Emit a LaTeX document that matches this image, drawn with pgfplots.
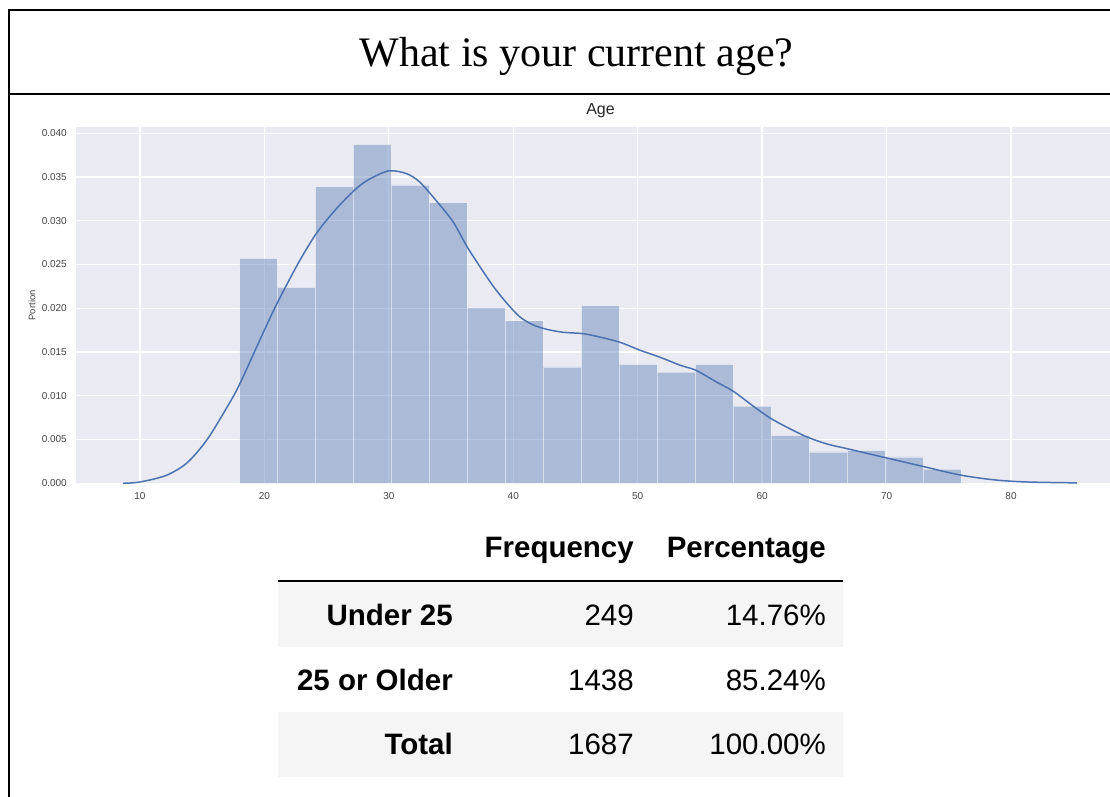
\documentclass[border=0pt]{standalone}
\usepackage{fontspec}
\setmainfont{Liberation Serif}
\newfontfamily\arial{Liberation Sans}
\usepackage{pgfplots}
\pgfplotsset{compat=1.18}
\definecolor{sbblue}{HTML}{4C72B0}
\definecolor{sbbg}{HTML}{EAEAF2}
\definecolor{rowgray}{HTML}{F5F5F5}
\definecolor{ticktxt}{HTML}{444444}
\definecolor{titletxt}{HTML}{262626}
\begin{document}
\begin{tikzpicture}[x=1pt,y=1pt]
\useasboundingbox (0,0) rectangle (1110,796);
\clip (0,0) rectangle (1110,796);
\fill[white] (0,0) rectangle (1110,796);
% frame
\draw[line width=2pt] (9,-5) -- (9,786) -- (1120,786);
\draw[line width=2pt] (9,702) -- (1120,702);
\node[anchor=base, inner sep=0pt, font=\fontsize{42}{50}\selectfont] at (576.5,729) {What is your current age?};

\begin{axis}[
  at={(76pt,312.7pt)}, anchor=south west,
  scale only axis, width=1049pt, height=356pt,
  xmin=4.86, xmax=89.16, ymin=0, ymax=0.04068,
  axis background/.style={fill=sbbg},
  axis line style={draw=none},
  tick style={draw=none},
  grid=major,
  major grid style={white, line width=1.3pt},
  xtick={10,20,30,40,50,60,70,80},
  ytick={0,0.005,0.01,0.015,0.02,0.025,0.03,0.035,0.04},
  scaled y ticks=false,
  yticklabel style={/pgf/number format/fixed, /pgf/number format/fixed zerofill, /pgf/number format/precision=3, xshift=-9pt},
  /pgf/number format/assume math mode=true,
  ticklabel style={font=\arial\fontsize{10}{12}\selectfont, text=ticktxt, inner sep=0pt},
  xticklabel style={yshift=-9.5pt},
  ylabel={Portion},
  ylabel style={at={(axis description cs:-0.042,0.5)}, anchor=center, font=\arial\fontsize{9.5}{11}\selectfont, text=ticktxt},
  title={Age},
  title style={at={(axis description cs:0.5,1)}, anchor=base, yshift=6.3pt, font=\arial\fontsize{16}{18}\selectfont, text=titletxt},
]
\addplot[ybar interval, fill=sbblue, fill opacity=0.4, draw=white, draw opacity=0.5, line width=0.8pt] coordinates {
(18.0000,0.02571) (21.0526,0.02240) (24.1053,0.03390) (27.1579,0.03874)
(30.2105,0.03409) (33.2632,0.03207) (36.3158,0.02005) (39.3684,0.01857)
(42.4211,0.01329) (45.4737,0.02030) (48.5263,0.01360) (51.5789,0.01269)
(54.6316,0.01360) (57.6842,0.00883) (60.7368,0.00549) (63.7895,0.00358)
(66.8421,0.00377) (69.8947,0.00301) (72.9474,0.00163) (76.0000,0.00163)
};
\addplot[sbblue, line width=1.5pt, smooth] coordinates {
(8.63,0) (10,0.00015) (12.1,0.0009) (13.75,0.0023) (15.35,0.0049) (17.0,0.0087)
(18.0,0.0113) (19.9,0.0172) (21.0,0.0205) (22.7,0.0251) (24.2,0.0286) (25.8,0.0314)
(27.4,0.0337) (28.5,0.0348) (30.0,0.0357) (31.4,0.0354) (32.5,0.0344) (34.1,0.0318)
(35.2,0.0298) (36.26,0.0271) (37.3,0.0248) (38.4,0.0225) (39.47,0.0206) (40.54,0.0190)
(41.6,0.0181) (42.68,0.0176) (44.0,0.01726) (45.6,0.0171) (47.0,0.0167) (48.6,0.0161)
(50.2,0.0152) (51.8,0.0144) (53.4,0.0135) (54.7,0.0129) (56.3,0.0116) (57.7,0.0105)
(59.3,0.0088) (60.6,0.0075) (62.0,0.0064) (63.6,0.0053) (65.2,0.0045) (67.0,0.0039)
(70.0,0.0029) (73.0,0.0019) (75.9,0.00095) (78.6,0.0004) (81.3,0.00015) (85.3,0.00005)
};
\end{axis}

% table
\fill[rowgray] (278,214) rectangle (843,149);
\fill[rowgray] (278,84) rectangle (843,19);
\draw[line width=1.5pt] (278,215) -- (843,215);
\begin{scope}[every node/.style={anchor=base east, inner sep=0pt}]
\node[font=\arial\bfseries\fontsize{29.5}{32}\selectfont] at (634,239) {Frequency};
\node[font=\arial\bfseries\fontsize{29.5}{32}\selectfont] at (826,239) {Percentage};
\node[font=\arial\bfseries\fontsize{29.5}{32}\selectfont] at (453,171) {Under 25};
\node[font=\arial\bfseries\fontsize{29.5}{32}\selectfont] at (453,106) {25 or Older};
\node[font=\arial\bfseries\fontsize{29.5}{32}\selectfont] at (453,42) {Total};
\node[font=\arial\fontsize{29.5}{32}\selectfont] at (634,171) {249};
\node[font=\arial\fontsize{29.5}{32}\selectfont] at (634,106) {1438};
\node[font=\arial\fontsize{29.5}{32}\selectfont] at (634,42) {1687};
\node[font=\arial\fontsize{29.5}{32}\selectfont] at (826,171) {14.76\%};
\node[font=\arial\fontsize{29.5}{32}\selectfont] at (826,106) {85.24\%};
\node[font=\arial\fontsize{29.5}{32}\selectfont] at (826,42) {100.00\%};
\end{scope}
\end{tikzpicture}
\end{document}
